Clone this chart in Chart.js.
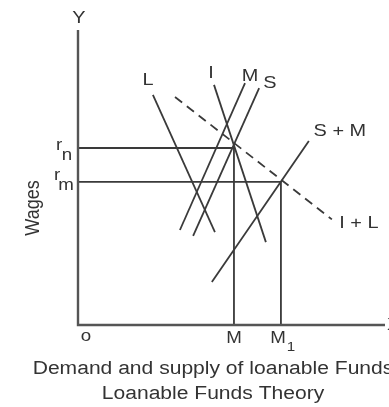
<!DOCTYPE html>
<html>
<head>
<meta charset="utf-8">
<script src="https://cdn.jsdelivr.net/npm/chart.js@4"></script>
<style>
  body { margin: 0; background: #fff; }
  #wrap { width: 389px; height: 407px; }
</style>
</head>
<body>
<div id="wrap"><canvas id="myChart"></canvas></div>
<script>
// values, both axes on a 0-100 scale
const curveNames = ['L', 'I', 'M', 'S', 'S + M', 'I + L'];
const curveL = [{ x: 24.4, y: 78.0 }, { x: 44.6, y: 31.5 }];
const curveI = [{ x: 44.3, y: 81.4 }, { x: 61.2, y: 28.1 }];
const curveM = [{ x: 54.4, y: 82.0 }, { x: 33.2, y: 32.2 }];
const curveS = [{ x: 59.0, y: 80.3 }, { x: 37.5, y: 30.2 }];
const curveSM = [{ x: 75.2, y: 62.4 }, { x: 43.6, y: 14.6 }];
const curveIL = [{ x: 31.6, y: 77.3 }, { x: 82.7, y: 35.8 }];

const rateN = 60;    // r n
const rateM = 48.5;  // r m
const qtyM = 50.8;   // M
const qtyM1 = 66.1;  // M1
const axisMax = 100;

const xTickLabels = ['o', 'M', 'M', '1'];
const yTickLabels = ['r', 'n', 'r', 'm'];
const axisNames = ['Y', 'X', 'Wages'];
const titleLines = ['Demand and supply of loanable Funds', 'Loanable Funds Theory'];

const FONT = '"Liberation Sans", Arial, sans-serif';
const STRETCH = 1.17;
const INK = '#3a3a3a';

function drawText(ctx, text, x, y, size, align, rotate) {
  ctx.save();
  ctx.font = size + 'px ' + FONT;
  ctx.fillStyle = '#333';
  ctx.textAlign = align || 'center';
  ctx.textBaseline = 'middle';
  ctx.translate(x, y);
  ctx.scale(STRETCH, 1);
  if (rotate) ctx.rotate(rotate);
  ctx.fillText(text, 0, 0);
  ctx.restore();
}

function seg(data, dash) {
  return {
    data: data,
    showLine: true,
    pointRadius: 0,
    borderColor: INK,
    borderWidth: 1.8,
    borderDash: dash || [],
    clip: false
  };
}

// label spots for the curves (data units)
const curveLabelSpots = [[22.8, 83.1], [43.3, 85.4], [56.0, 84.4], [62.5, 82.0], [85.3, 65.8], [91.5, 34.6]];

const labelsPlugin = {
  id: 'labels',
  afterDraw(chart) {
    const ctx = chart.ctx;
    const xs = v => chart.scales.x.getPixelForValue(v);
    const ys = v => chart.scales.y.getPixelForValue(v);

    curveNames.forEach((name, i) => {
      drawText(ctx, name, xs(curveLabelSpots[i][0]), ys(curveLabelSpots[i][1]), 17);
    });

    // axis names
    drawText(ctx, axisNames[0], xs(0) + 1, ys(axisMax) - 12, 17);
    drawText(ctx, axisNames[1], xs(axisMax) + 2, ys(0), 17, 'left');
    drawText(ctx, axisNames[2], xs(0) - 45, 208, 18, 'center', -Math.PI / 2);

    // x ticks
    drawText(ctx, xTickLabels[0], xs(0) + 8, ys(0) + 12, 16);
    drawText(ctx, xTickLabels[1], xs(qtyM), ys(0) + 14, 16);
    drawText(ctx, xTickLabels[2], xs(qtyM1) - 3, ys(0) + 14, 16);
    drawText(ctx, xTickLabels[3], xs(qtyM1) + 10, ys(0) + 22, 13);

    // y ticks
    drawText(ctx, yTickLabels[0], xs(0) - 19, ys(rateN) - 2, 16);
    drawText(ctx, yTickLabels[1], xs(0) - 11, ys(rateN) + 8, 16);
    drawText(ctx, yTickLabels[2], xs(0) - 21, ys(rateM) - 6, 16);
    drawText(ctx, yTickLabels[3], xs(0) - 12, ys(rateM) + 4, 16);

    // title
    drawText(ctx, titleLines[0], 213, 369, 18);
    drawText(ctx, titleLines[1], 213, 394, 18);
  }
};

const axisLine = {
  showLine: true, pointRadius: 0, borderColor: '#555', borderWidth: 2.4, clip: false
};

new Chart(document.getElementById('myChart'), {
  type: 'scatter',
  data: {
    datasets: [
      Object.assign({}, axisLine, { data: [{ x: 0, y: axisMax }, { x: 0, y: 0 }, { x: axisMax, y: 0 }] }),
      seg([{ x: 0, y: rateN }, { x: qtyM, y: rateN }, { x: qtyM, y: 0 }]),
      seg([{ x: 0, y: rateM }, { x: qtyM1, y: rateM }, { x: qtyM1, y: 0 }]),
      seg(curveL),
      seg(curveI),
      seg(curveM),
      seg(curveS),
      seg(curveSM),
      seg(curveIL, [9, 6])
    ]
  },
  options: {
    responsive: true,
    maintainAspectRatio: false,
    animation: false,
    layout: { padding: { left: 78, right: 4, top: 30, bottom: 82 } },
    plugins: { legend: { display: false }, tooltip: { enabled: false }, title: { display: false } },
    scales: {
      x: { type: 'linear', min: 0, max: axisMax, display: false },
      y: { type: 'linear', min: 0, max: axisMax, display: false }
    }
  },
  plugins: [labelsPlugin]
});
</script>
</body>
</html>
